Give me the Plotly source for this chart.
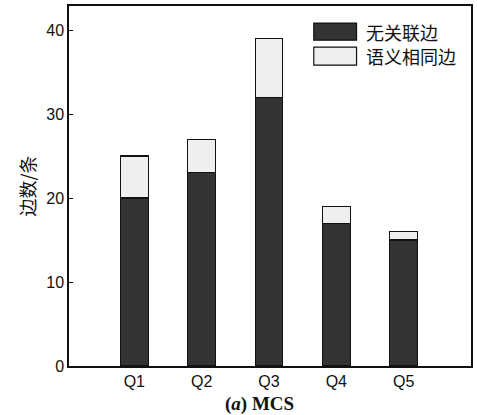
import plotly.graph_objects as go

# Edge counts per query
categories = ["Q1", "Q2", "Q3", "Q4", "Q5"]
unrelated_edges = [20, 23, 32, 17, 15]
same_semantic_edges = [5, 4, 7, 2, 1]
series_names = ["无关联边", "语义相同边"]
series_colors = ["#333333", "#efefef"]
y_ticks = [0, 10, 20, 30, 40]

fig = go.Figure()
for name, vals, color in zip(series_names, [unrelated_edges, same_semantic_edges], series_colors):
    fig.add_trace(go.Bar(
        x=categories, y=vals, name=name, width=0.41,
        marker=dict(color=color, line=dict(color="#111111", width=1.2)),
        showlegend=False,
    ))

fig.update_layout(
    width=477, height=415,
    margin=dict(l=69, r=4, t=6, b=49),
    barmode="stack",
    plot_bgcolor="white", paper_bgcolor="white",
    font=dict(family="Liberation Sans, Arial, sans-serif", size=16, color="#111111"),
)
fig.update_xaxes(
    range=[-0.97, 5.0], showgrid=False, zeroline=False,
    showline=True, linecolor="#111111", linewidth=1.5, mirror=True,
    ticks="", tickfont=dict(size=16),
)
fig.update_yaxes(
    range=[0, 42.86], tickvals=y_ticks, showgrid=False, zeroline=False,
    showline=True, linecolor="#111111", linewidth=1.5, mirror=True,
    ticks="inside", ticklen=4, tickcolor="#111111", tickfont=dict(size=16),
    title=dict(text="边数/条", font=dict(family="Noto Sans CJK SC", size=18), standoff=6),
)

# Legend drawn as swatches with labels in the upper right
legend_x0, legend_x1 = 0.6089, 0.7153
legend_rows = [(0.9527, 0.9051), (0.8858, 0.8357)]
for (y1, y0), name, color in zip(legend_rows, series_names, series_colors):
    fig.add_shape(type="rect", xref="paper", yref="paper",
                  x0=legend_x0, x1=legend_x1, y0=y0, y1=y1,
                  fillcolor=color, line=dict(color="#111111", width=1.2))
    fig.add_annotation(xref="paper", yref="paper", x=0.7327, y=(y0 + y1) / 2,
                       text=name, showarrow=False, xanchor="left", yanchor="middle",
                       font=dict(family="Noto Sans CJK SC", size=18, color="#111111"))

# Panel caption below the axis
fig.add_annotation(xref="paper", yref="paper", x=0.475, y=-0.105,
                   text="<b>(<i>a</i>) MCS</b>", showarrow=False,
                   xanchor="center", yanchor="middle",
                   font=dict(family="Liberation Serif, Times New Roman, serif", size=19, color="#111111"))

fig.write_html("out.html")
